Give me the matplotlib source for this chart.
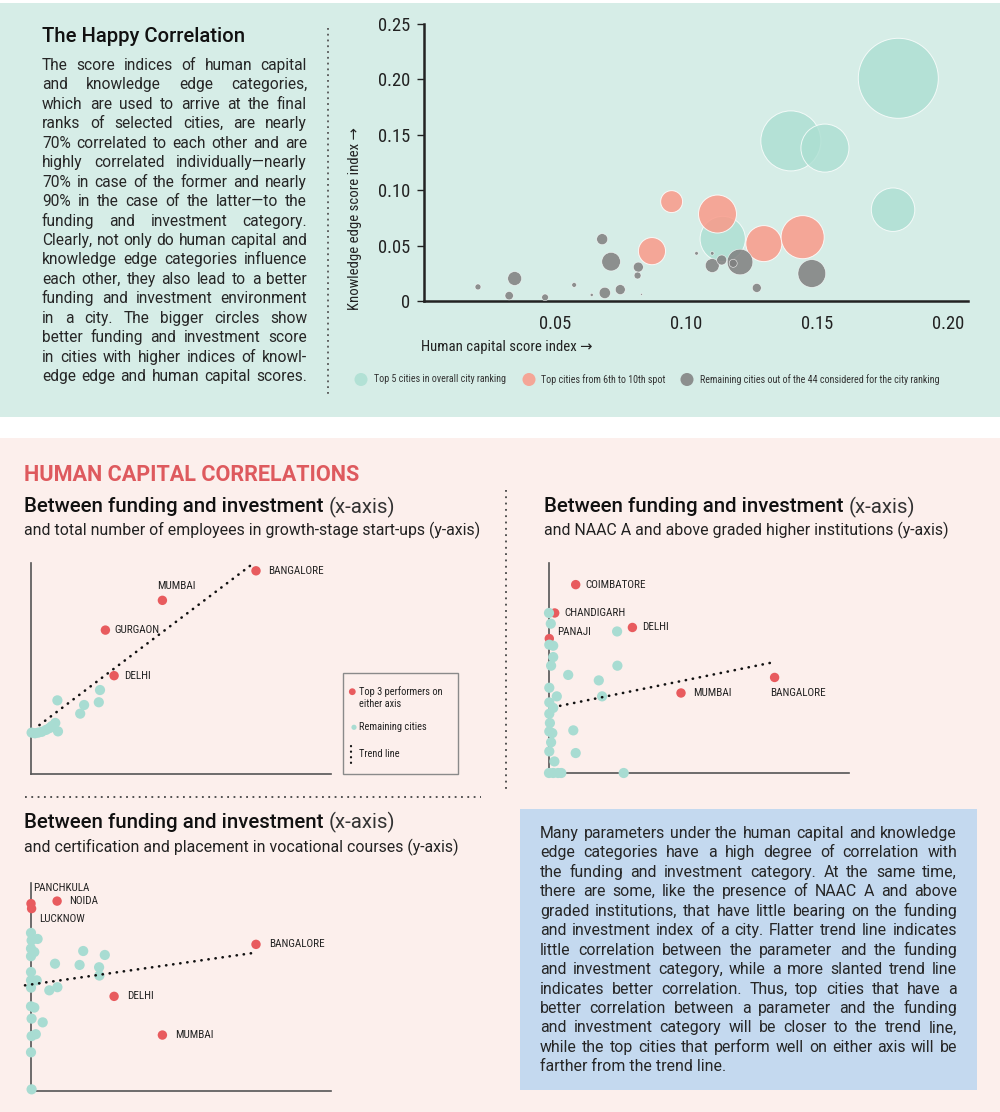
import numpy as np
import matplotlib
matplotlib.use("Agg")
import matplotlib.pyplot as plt
from matplotlib import font_manager as fm
from matplotlib.patches import Rectangle

# ---------------- data ----------------
# Top bubble chart: human capital (x), knowledge edge (y), funding & investment (bubble area)
top5_x = [0.181, 0.140, 0.153, 0.179, 0.114]
top5_y = [0.201, 0.1445, 0.138, 0.0824, 0.056]
top5_f = [0.200, 0.1125, 0.072, 0.059, 0.064]

mid_x = [0.0945, 0.112, 0.087, 0.1297, 0.1445]
mid_y = [0.0897, 0.0785, 0.045, 0.0518, 0.0576]
mid_f = [0.015, 0.045, 0.023, 0.0405, 0.058]

rest_x = [0.0206, 0.0346, 0.0325, 0.0462, 0.0573, 0.064, 0.068, 0.0714, 0.069, 0.0749,
          0.0818, 0.0815, 0.083, 0.104, 0.110, 0.110, 0.1136, 0.1206, 0.118, 0.127, 0.148]
rest_y = [0.0127, 0.0203, 0.0048, 0.0033, 0.0145, 0.0055, 0.0558, 0.0355, 0.0073, 0.0103,
          0.0306, 0.023, 0.006, 0.043, 0.043, 0.032, 0.037, 0.0352, 0.034, 0.0118, 0.0248]
rest_f = [0.0011, 0.006, 0.0022, 0.0014, 0.0007, 0.0003, 0.0038, 0.0108, 0.004, 0.0031,
          0.0031, 0.0015, 0.0001, 0.0004, 0.0004, 0.006, 0.0031, 0.0205, 0.002, 0.0025, 0.024]

top_xticks = [0.05, 0.10, 0.15, 0.20]
top_xticklabels = ["0.05", "0.10", "0.15", "0.20"]
top_yticks = [0, 0.05, 0.10, 0.15, 0.20, 0.25]
top_yticklabels = ["0", "0.05", "0.10", "0.15", "0.20", "0.25"]

# Panel 1: funding & investment vs employees in growth-stage start-ups
p1_top_names = ["BANGALORE", "MUMBAI", "GURGAON", "DELHI"]
p1_top_x = [75.0, 43.8, 24.8, 27.7]
p1_top_y = [96.3, 82.3, 68.2, 46.6]
p1_rest_x = [8.8, 23.0, 22.6, 17.7, 16.4, 8.1, 9.0, 6.9, 0.2, 1.3, 2.4, 3.6, 5.0, 6.1]
p1_rest_y = [34.9, 39.8, 34.0, 32.7, 28.6, 24.2, 20.2, 22.7, 19.6, 19.3, 19.6, 20.0, 20.9, 21.7]
p1_trend_x = [2.8, 73.8]
p1_trend_y = [23.2, 99.5]

# Panel 2: funding & investment vs NAAC A and above graded institutions
p2_top_names = ["COIMBATORE", "CHANDIGARH", "DELHI", "PANAJI", "MUMBAI", "BANGALORE"]
p2_top_x = [8.9, 1.9, 27.8, 0.1, 44.0, 75.2]
p2_top_y = [89.7, 76.2, 69.3, 64.0, 38.1, 45.5]
p2_rest_x = [0.0, 0.6, 22.7, 0.1, 1.4, 1.4, 0.7, 22.8, 6.4, 16.6, 0.1, 17.7, 2.6, 0.1, 1.4,
             0.1, 0.3, 0.1, 1.1, 0.7, 0.1, 1.8, 8.1, 8.9, 0.0, 1.4, 3.0, 4.1, 24.9]
p2_rest_y = [76.2, 71.1, 67.4, 61.1, 60.6, 55.2, 51.1, 51.1, 46.7, 44.1, 40.6, 36.5, 36.5, 33.6, 31.0,
             28.2, 23.8, 19.8, 19.0, 14.6, 10.3, 5.5, 20.3, 9.5, 0.0, 0.0, 0.0, 0.0, 0.0]
p2_trend_x = [3.7, 75.7]
p2_trend_y = [32.0, 53.0]

# Panel 3: funding & investment vs certification and placement in vocational courses
p3_top_names = ["PANCHKULA", "LUCKNOW", "NOIDA", "BANGALORE", "DELHI", "MUMBAI"]
p3_top_x = [0.0, 0.2, 8.7, 75.0, 27.7, 43.8]
p3_top_y = [90.1, 87.7, 91.3, 70.5, 45.5, 26.9]
p3_rest_x = [0.0, 0.2, 2.2, 0.0, 1.1, 0.0, 17.4, 24.6, 8.0, 16.2, 22.7, 22.8, 0.0, 0.0, 1.9,
             0.0, 6.1, 8.8, 0.0, 1.1, 0.2, 3.9, 0.2, 1.6, 0.0, 0.2]
p3_rest_y = [76.0, 72.4, 73.1, 68.5, 66.8, 64.8, 67.3, 65.4, 61.2, 60.6, 59.5, 55.5, 57.2, 53.2, 53.2,
             49.7, 48.4, 49.9, 40.7, 40.1, 34.8, 33.0, 26.4, 27.3, 18.6, 0.8]
p3_trend_x = [-2.0, 73.8]
p3_trend_y = [50.8, 66.3]

# ---------------- texts ----------------
title_text = "The Happy Correlation"
left_lines = [
    "The score indices of human capital",
    "and knowledge edge categories,",
    "which are used to arrive at the final",
    "ranks of selected cities, are nearly",
    "70% correlated to each other and are",
    "highly correlated individually\u2014nearly",
    "70% in case of the former and nearly",
    "90% in the case of the latter\u2014to the",
    "funding and investment category.",
    "Clearly, not only do human capital and",
    "knowledge edge categories influence",
    "each other, they also lead to a better",
    "funding and investment environment",
    "in a city. The bigger circles show",
    "better funding and investment score",
    "in cities with higher indices of knowl-",
    "edge edge and human capital scores.",
]
blue_lines = [
    "Many parameters under the human capital and knowledge",
    "edge categories have a high degree of correlation with",
    "the funding and investment category. At the same time,",
    "there are some, like the presence of NAAC A and above",
    "graded institutions, that have little bearing on the funding",
    "and investment index of a city. Flatter trend line indicates",
    "little correlation between the parameter and the funding",
    "and investment category, while a more slanted trend line",
    "indicates better correlation. Thus, top cities that have a",
    "better correlation between a parameter and the funding",
    "and investment category will be closer to the trend line,",
    "while the top cities that perform well on either axis will be",
    "farther from the trend line.",
]
legend_top = ["Top 5 cities in overall city ranking",
              "Top cities from 6th to 10th spot",
              "Remaining cities out of the 44 considered for the city ranking"]

# ---------------- styling ----------------
def font_path(**kw):
    try:
        return fm.findfont(fm.FontProperties(**kw), fallback_to_default=False)
    except Exception:
        return None

BODY = "Roboto" if font_path(family="Roboto") else "DejaVu Sans"
COND_KW = dict(family=[BODY, "DejaVu Sans"])
for cand in ["Liberation Sans Narrow", "Roboto Condensed", "Open Sans Condensed"]:
    p = font_path(family=cand)
    if p and any(k in p.lower() for k in ["narrow", "condensed"]):
        COND_KW = dict(family=[cand, "DejaVu Sans"])
        break
else:
    p = font_path(family="DejaVu Sans", stretch="condensed")
    if p and "condensed" in p.lower():
        COND_KW = dict(family=["DejaVu Sans"], stretch="condensed")
plt.rcParams["font.family"] = [BODY, "DejaVu Sans"]

MINT = "#d6ede7"
PINK = "#fcefec"
BLUE = "#c4d9ef"
HEAD_RED = "#de5a5e"
TEAL_B = "#acdfd2"
SALMON = "#fa9a89"
GRAY = "#7f7f7f"
TEAL_S = "#a8dcd2"
RED_S = "#e85b5e"
INK = "#262626"

W, H = 1000, 1112
fig = plt.figure(figsize=(W / 100, H / 100), dpi=100)
fig.patch.set_facecolor("white")


def px_axes(l, t, r, b, z=1):
    a = fig.add_axes([l / W, 1 - b / H, (r - l) / W, (b - t) / H])
    a.set_zorder(z)
    a.patch.set_alpha(0)
    return a


bg = px_axes(0, 0, W, H, z=0)
bg.set_xlim(0, W)
bg.set_ylim(H, 0)
bg.axis("off")
bg.add_patch(Rectangle((0, 3), W, 414, color=MINT, lw=0))
bg.add_patch(Rectangle((0, 438), W, H - 438, color=PINK, lw=0))
bg.add_patch(Rectangle((520, 809), 457, 281, color=BLUE, lw=0))

ov = px_axes(0, 0, W, H, z=5)
ov.set_xlim(0, W)
ov.set_ylim(H, 0)
ov.axis("off")

fig.canvas.draw()
renderer = fig.canvas.get_renderer()


def text_width(s, **kw):
    t = ov.text(0, 0, s, **kw)
    w = t.get_window_extent(renderer).width
    t.remove()
    return w


def fit(s, target, lo=5.0, hi=20.0, **kw):
    w = text_width(s, fontsize=10, **kw)
    return float(np.clip(10.0 * target / w, lo, hi))


def justify(lines, x0, x1, base0, dy, color, justify_last=False, tight=0.985):
    kw = dict(color=color, family=[BODY, "DejaVu Sans"])
    widest = max(text_width(l, fontsize=10, **kw) for l in lines[:-1])
    fs = 10.0 * (x1 - x0) * tight / widest
    kw["fontsize"] = fs
    for i, line in enumerate(lines):
        y = base0 + i * dy
        words = line.split()
        last = (i == len(lines) - 1)
        if (last and not justify_last) or len(words) == 1:
            ov.text(x0, y, line, va="baseline", ha="left", **kw)
            continue
        widths = [text_width(w_, **kw) for w_ in words]
        gap = (x1 - x0 - sum(widths)) / (len(words) - 1)
        x = x0
        for w_, wd in zip(words, widths):
            ov.text(x, y, w_, va="baseline", ha="left", **kw)
            x += wd + gap


# ---------------- top section text ----------------
fs_title = fit(title_text, 203, weight="medium")
ov.text(42, 37, title_text, fontsize=fs_title, weight="medium", color="#111", va="center", ha="left")
justify(left_lines, 42, 307, 70, 19.44, INK, justify_last=True)

# dotted vertical separator
ov.plot([328, 328], [28, 395], color="#555", lw=1.3, ls=(0, (1, 2.2)))

# ---------------- top bubble chart ----------------
K = 16589.0  # points^2 per unit of funding index
ax = px_axes(424, 24, 968, 301, z=2)
ax.scatter(top5_x, top5_y, s=np.array(top5_f) * K, color=TEAL_B, alpha=0.8,
           edgecolor="white", linewidth=0.7, zorder=2)
ax.scatter(mid_x, mid_y, s=np.array(mid_f) * K, color=SALMON, alpha=0.85,
           edgecolor="white", linewidth=0.7, zorder=3)
ax.scatter(rest_x, rest_y, s=np.array(rest_f) * K, color=GRAY, alpha=0.85,
           edgecolor=(1, 1, 1, 0.5), linewidth=0.4, zorder=4)
ax.set_xlim(0, 0.2076)
ax.set_ylim(0, 0.25)
for sp in ["top", "right"]:
    ax.spines[sp].set_visible(False)
for sp in ["left", "bottom"]:
    ax.spines[sp].set_linewidth(1.8)
    ax.spines[sp].set_color("#222")
ax.set_xticks(top_xticks)
ax.set_xticklabels(top_xticklabels)
ax.set_yticks(top_yticks)
ax.set_yticklabels(top_yticklabels)
fs_tick = fit("0.25", 32, **COND_KW)
ax.tick_params(axis="x", length=0, pad=10, labelsize=fs_tick, labelcolor="#222")
ax.tick_params(axis="y", length=5, width=1, pad=5, labelsize=fs_tick, labelcolor="#222", color="#222")
for lab in ax.get_xticklabels() + ax.get_yticklabels():
    lab.set_fontproperties(fm.FontProperties(size=fs_tick, **COND_KW))

xl = "Human capital score index \u2192"
fs_axl = fit(xl, 170, **COND_KW)
ov.text(421, 347, xl, fontsize=fs_axl, color="#222", va="center", ha="left", **COND_KW)
ov.text(355, 219, "Knowledge edge score index \u2192", fontsize=fs_axl, color="#222",
        va="center", ha="center", rotation=90, **COND_KW)

# legend for the bubble chart
leg_cols = [TEAL_B, SALMON, GRAY]
leg_mx = [361, 529, 687]
leg_tx = [374, 541, 700]
fs_leg = fit(legend_top[0], 132, **COND_KW)
for c, mx, tx, lab in zip(leg_cols, leg_mx, leg_tx, legend_top):
    ov.scatter([mx], [379.5], s=88, color=c, alpha=0.85, edgecolor="none")
    ov.text(tx, 379.5, lab, fontsize=fs_leg, color="#333", va="center", ha="left", **COND_KW)

# ---------------- bottom section headings ----------------
hc = "HUMAN CAPITAL CORRELATIONS"
fs_hc = fit(hc, 335, weight="bold")
ov.text(24, 475, hc, fontsize=fs_hc, weight="bold", color=HEAD_RED, va="center", ha="left")

fs_head = fit("Between funding and investment", 298, weight="medium")
fs_sub = fit("and total number of employees in growth-stage start-ups (y-axis)", 456)


def heading(x, y_head, y_sub, sub):
    kwb = dict(fontsize=fs_head, weight="medium", color="#111")
    ov.text(x, y_head, "Between funding and investment", va="center", ha="left", **kwb)
    wb = text_width("Between funding and investment ", **kwb)
    ov.text(x + wb, y_head, "(x-axis)", va="center", ha="left", fontsize=fs_head,
            weight="normal", color="#333")
    ov.text(x, y_sub, sub, va="center", ha="left", fontsize=fs_sub, color="#222")


heading(24, 507, 530, "and total number of employees in growth-stage start-ups (y-axis)")
heading(544, 507, 530, "and NAAC A and above graded higher institutions (y-axis)")
heading(24, 822, 847, "and certification and placement in vocational courses (y-axis)")

ov.plot([506, 506], [490, 790], color="#444", lw=1.3, ls=(0, (1, 2.5)))
ov.plot([25, 481], [797, 797], color="#444", lw=1.3, ls=(0, (1, 2.5)))

# blue explanation box text
justify(blue_lines, 540, 957, 838, 19.44, INK)

# ---------------- small scatter panels ----------------
fs_city = fit("BANGALORE", 56, **COND_KW)
DOT_LS = (0, (0.1, 2.6))


def small_scatter(box, tx, ty, names, offs, rx, ry, trx, try_):
    a = px_axes(*box, z=3)
    a.set_xlim(0, 100)
    a.set_ylim(0, 100)
    a.scatter(tx, ty, s=46, color=RED_S, edgecolor="none", zorder=3, clip_on=False)
    a.scatter(rx, ry, s=54, color=TEAL_S, edgecolor="none", zorder=4, clip_on=False)
    a.plot(trx, try_, color="#111", lw=1.9, ls=DOT_LS, dash_capstyle="round",
           zorder=5, clip_on=False)
    for sp in ["top", "right"]:
        a.spines[sp].set_visible(False)
    for sp in ["left", "bottom"]:
        a.spines[sp].set_color("#555")
        a.spines[sp].set_linewidth(1.2)
    a.set_xticks([])
    a.set_yticks([])
    for n, x, y, (dx, dy) in zip(names, tx, ty, offs):
        a.annotate(n, (x, y), xytext=(dx * 0.72, -dy * 0.72), textcoords="offset points",
                   fontsize=fs_city, color="#222", va="center", ha="left", zorder=6,
                   annotation_clip=False, **COND_KW)
    return a


small_scatter((31, 563, 331, 774), p1_top_x, p1_top_y, p1_top_names,
              [(11.7, 0), (-5.3, -14.6), (9, 0), (10, 0)],
              p1_rest_x, p1_rest_y, p1_trend_x, p1_trend_y)
small_scatter((549, 563, 849, 773), p2_top_x, p2_top_y, p2_top_names,
              [(9.3, 0), (9.3, 0), (9.4, 0), (7.4, -6.3), (11.7, 0), (-4, 15.6)],
              p2_rest_x, p2_rest_y, p2_trend_x, p2_trend_y)
small_scatter((31, 883, 331, 1091), p3_top_x, p3_top_y, p3_top_names,
              [(2.3, -16), (7.3, 10), (12, 0), (13, 0), (12.7, 0), (12.7, 0)],
              p3_rest_x, p3_rest_y, p3_trend_x, p3_trend_y)

# small legend for panel 1
ov.add_patch(Rectangle((343, 673), 115, 101, fill=False, edgecolor="#8a8a8a", lw=1.0))
ov.scatter([352.3], [691.7], s=24, color=RED_S, edgecolor="none")
ov.scatter([354], [727.3], s=14, color=TEAL_S, edgecolor="none")
ov.plot([350.7, 350.7], [746, 764], color="#111", lw=1.6, ls=(0, (0.1, 2.4)), dash_capstyle="round")
fs_sl = fit("Top 3 performers on", 83, **COND_KW)
lkw = dict(fontsize=fs_sl, color="#222", va="center", ha="left", **COND_KW)
ov.text(359.3, 691.7, "Top 3 performers on", **lkw)
ov.text(359.3, 703.7, "either axis", **lkw)
ov.text(359.3, 727.3, "Remaining cities", **lkw)
ov.text(359.3, 753.7, "Trend line", **lkw)

fig.savefig("out.png", dpi=100, facecolor=fig.get_facecolor())
